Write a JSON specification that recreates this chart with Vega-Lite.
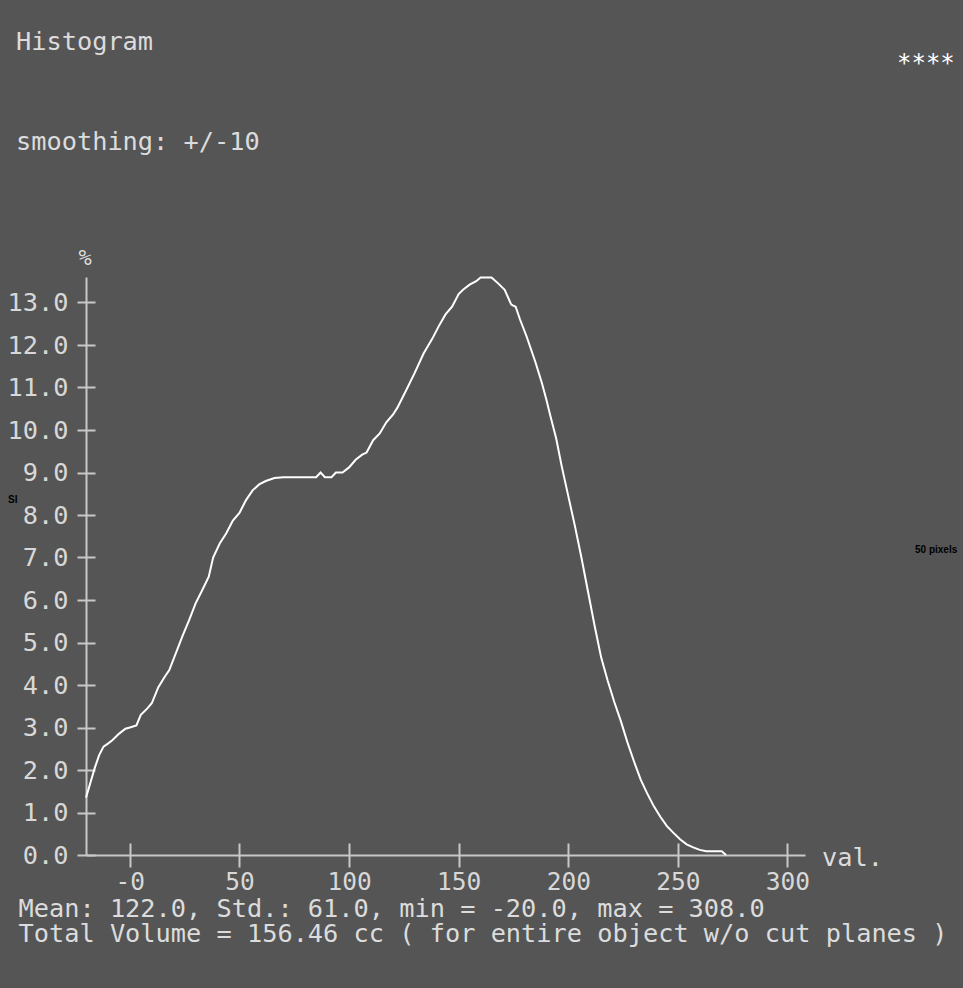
{
  "$schema": "https://vega.github.io/schema/vega-lite/v6.json",
  "width": 719,
  "height": 578,
  "autosize": {"type": "none"},
  "padding": {"left": 86, "top": 277, "right": 158, "bottom": 133},
  "background": "#555555",
  "config": {"view": {"stroke": null}, "font": "DejaVu Sans Mono"},
  "title": {
    "text": "Histogram",
    "subtitle": "smoothing: +/-10",
    "anchor": "start",
    "frame": "group",
    "dx": -70,
    "dy": 107,
    "font": "DejaVu Sans Mono",
    "fontSize": 25.3,
    "fontWeight": "normal",
    "color": "#dcdcdc",
    "subtitleFont": "DejaVu Sans Mono",
    "subtitleFontSize": 25.3,
    "subtitleColor": "#dcdcdc",
    "subtitlePadding": 74
  },
  "layer": [
    {
      "data": {
        "values": [
          {"val": -20, "pct": 1.35}, {"val": -18, "pct": 1.7}, {"val": -16, "pct": 2.05}, {"val": -14, "pct": 2.35},
          {"val": -12, "pct": 2.55}, {"val": -10, "pct": 2.62}, {"val": -8, "pct": 2.7}, {"val": -5, "pct": 2.85},
          {"val": -2, "pct": 2.97}, {"val": 0, "pct": 3.0}, {"val": 3, "pct": 3.05}, {"val": 5, "pct": 3.3},
          {"val": 8, "pct": 3.45}, {"val": 10, "pct": 3.57}, {"val": 13, "pct": 3.95}, {"val": 16, "pct": 4.2},
          {"val": 18, "pct": 4.35}, {"val": 21, "pct": 4.75}, {"val": 24, "pct": 5.15}, {"val": 27, "pct": 5.52},
          {"val": 30, "pct": 5.92}, {"val": 33, "pct": 6.23}, {"val": 36, "pct": 6.55}, {"val": 38, "pct": 7.0},
          {"val": 41, "pct": 7.33}, {"val": 44, "pct": 7.57}, {"val": 47, "pct": 7.87}, {"val": 50, "pct": 8.05},
          {"val": 53, "pct": 8.35}, {"val": 56, "pct": 8.58}, {"val": 59, "pct": 8.72}, {"val": 62, "pct": 8.8},
          {"val": 66, "pct": 8.87}, {"val": 70, "pct": 8.89}, {"val": 75, "pct": 8.89}, {"val": 80, "pct": 8.89},
          {"val": 85, "pct": 8.89}, {"val": 87, "pct": 9.0}, {"val": 89, "pct": 8.89}, {"val": 92, "pct": 8.89},
          {"val": 94, "pct": 9.0}, {"val": 97, "pct": 9.0}, {"val": 100, "pct": 9.12}, {"val": 103, "pct": 9.3},
          {"val": 106, "pct": 9.42}, {"val": 108, "pct": 9.47}, {"val": 111, "pct": 9.76}, {"val": 114, "pct": 9.92},
          {"val": 117, "pct": 10.18}, {"val": 120, "pct": 10.36}, {"val": 122, "pct": 10.52}, {"val": 126, "pct": 10.93},
          {"val": 130, "pct": 11.35}, {"val": 134, "pct": 11.8}, {"val": 138, "pct": 12.15}, {"val": 141, "pct": 12.45},
          {"val": 144, "pct": 12.72}, {"val": 147, "pct": 12.9}, {"val": 150, "pct": 13.2}, {"val": 152, "pct": 13.3},
          {"val": 155, "pct": 13.42}, {"val": 158, "pct": 13.5}, {"val": 160, "pct": 13.59}, {"val": 165, "pct": 13.59},
          {"val": 168, "pct": 13.45}, {"val": 171, "pct": 13.3}, {"val": 174, "pct": 12.95}, {"val": 176, "pct": 12.9},
          {"val": 178, "pct": 12.6}, {"val": 181, "pct": 12.2}, {"val": 185, "pct": 11.6}, {"val": 188, "pct": 11.1},
          {"val": 190, "pct": 10.72}, {"val": 192, "pct": 10.3}, {"val": 194.5, "pct": 9.8}, {"val": 197, "pct": 9.15},
          {"val": 200, "pct": 8.45}, {"val": 203, "pct": 7.75}, {"val": 206, "pct": 7.0}, {"val": 209, "pct": 6.2},
          {"val": 212, "pct": 5.4}, {"val": 215, "pct": 4.65}, {"val": 218, "pct": 4.1}, {"val": 221, "pct": 3.6},
          {"val": 224, "pct": 3.15}, {"val": 227, "pct": 2.65}, {"val": 230, "pct": 2.2}, {"val": 233, "pct": 1.78},
          {"val": 236, "pct": 1.45}, {"val": 239, "pct": 1.15}, {"val": 242, "pct": 0.9}, {"val": 245, "pct": 0.68},
          {"val": 248, "pct": 0.52}, {"val": 251, "pct": 0.37}, {"val": 254, "pct": 0.25}, {"val": 257, "pct": 0.18},
          {"val": 260, "pct": 0.12}, {"val": 263, "pct": 0.09}, {"val": 270, "pct": 0.09}, {"val": 272, "pct": 0.0}
        ]
      },
      "mark": {"type": "line", "color": "#ffffff", "strokeWidth": 2, "clip": false},
      "encoding": {
        "x": {
          "field": "val", "type": "quantitative",
          "scale": {"domain": [-20, 308], "nice": false, "zero": false},
          "axis": {
            "values": [0, 50, 100, 150, 200, 250, 300],
            "labelExpr": "datum.value == 0 ? '-0' : datum.label",
            "grid": false,
            "domainColor": "#c8c8c8", "domainWidth": 2,
            "tickColor": "#c8c8c8", "tickWidth": 2, "tickSize": 12,
            "labelColor": "#d8d8d8", "labelFont": "DejaVu Sans Mono", "labelFontSize": 24.5,
            "labelPadding": 3, "labelOverlap": false, "labelFlush": false,
            "title": ["Mean: 122.0, Std.: 61.0, min = -20.0, max = 308.0", "Total Volume = 156.46 cc ( for entire object w/o cut planes )"],
            "titleX": -68, "titleY": 41, "titleAlign": "left", "titleAnchor": "start", "titleBaseline": "top",
            "titleLineHeight": 25.3, "titleFont": "DejaVu Sans Mono", "titleFontSize": 25.3, "titleFontWeight": "normal",
            "titleColor": "#dcdcdc"
          }
        },
        "y": {
          "field": "pct", "type": "quantitative",
          "scale": {"domain": [0, 13.6], "nice": false, "zero": true},
          "axis": {
            "values": [0, 1, 2, 3, 4, 5, 6, 7, 8, 9, 10, 11, 12, 13],
            "format": ".1f",
            "grid": false,
            "domainColor": "#c8c8c8", "domainWidth": 2,
            "tickColor": "#c8c8c8", "tickWidth": 2, "tickSize": 9,
            "labelColor": "#d8d8d8", "labelFont": "DejaVu Sans Mono", "labelFontSize": 25.3,
            "labelPadding": 9, "labelOverlap": false, "labelFlush": false,
            "title": null
          }
        }
      }
    },
    {
      "data": {"values": [{"label": "%"}]},
      "mark": {"type": "text", "color": "#dcdcdc", "font": "DejaVu Sans Mono", "fontSize": 22, "align": "center", "baseline": "middle", "dx": -1, "dy": -19},
      "encoding": {
        "text": {"field": "label"},
        "x": {"datum": -20, "type": "quantitative", "axis": {"orient": "bottom", "values": [0, 50, 100, 150, 200, 250, 300], "grid": false, "domain": false, "labels": false, "tickColor": "#c8c8c8", "tickWidth": 2, "tickSize": -12, "title": null}},
        "y": {"datum": 13.6, "type": "quantitative", "axis": {"orient": "left", "values": [0, 1, 2, 3, 4, 5, 6, 7, 8, 9, 10, 11, 12, 13], "grid": false, "domain": false, "labels": false, "tickColor": "#c8c8c8", "tickWidth": 2, "tickSize": -9, "title": null}}
      }
    },
    {
      "data": {"values": [{"label": "val."}]},
      "mark": {"type": "text", "color": "#dcdcdc", "font": "DejaVu Sans Mono", "fontSize": 25.3, "align": "left", "baseline": "middle", "dx": 17, "dy": 3},
      "encoding": {
        "text": {"field": "label"},
        "x": {"datum": 308, "type": "quantitative", "axis": null},
        "y": {"datum": 0, "type": "quantitative", "axis": null}
      }
    },
    {
      "data": {"values": [{"label": "****"}]},
      "mark": {"type": "text", "color": "#ffffff", "font": "DejaVu Sans Mono", "fontSize": 24, "align": "left", "baseline": "middle", "dx": 92, "dy": -213},
      "encoding": {
        "text": {"field": "label"},
        "x": {"datum": 308, "type": "quantitative", "axis": null},
        "y": {"datum": 13.6, "type": "quantitative", "axis": null}
      }
    },
    {
      "data": {"values": [{"label": "50 pixels"}]},
      "mark": {"type": "text", "color": "#000000", "font": "Liberation Sans", "fontSize": 10, "fontWeight": "bold", "align": "left", "baseline": "middle", "dx": 110, "dy": -305},
      "encoding": {
        "text": {"field": "label"},
        "x": {"datum": 308, "type": "quantitative", "axis": null},
        "y": {"datum": 0, "type": "quantitative", "axis": null}
      }
    },
    {
      "data": {"values": [{"label": "SI"}]},
      "mark": {"type": "text", "color": "#000000", "font": "Liberation Sans", "fontSize": 10, "fontWeight": "bold", "align": "left", "baseline": "middle", "dx": -78, "dy": -355},
      "encoding": {
        "text": {"field": "label"},
        "x": {"datum": -20, "type": "quantitative", "axis": null},
        "y": {"datum": 0, "type": "quantitative", "axis": null}
      }
    }
  ],
  "resolve": {"axis": {"x": "independent", "y": "independent"}}
}
